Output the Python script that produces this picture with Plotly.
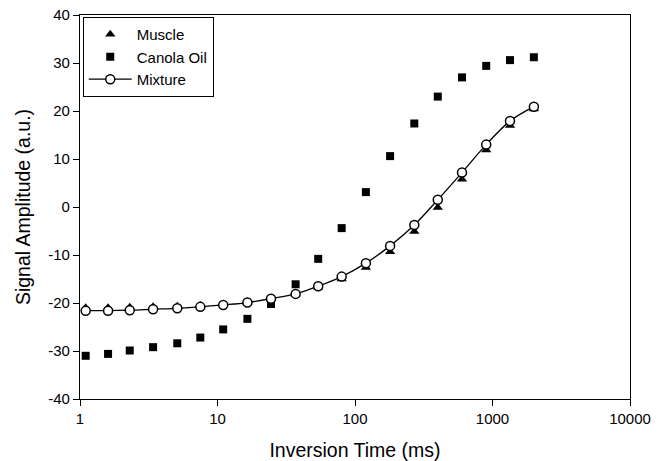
import plotly.graph_objects as go

inversion_time = [1.1, 1.6, 2.3, 3.4, 5.1, 7.5, 11, 16.5, 24.5, 37, 54, 80,
                  120, 180, 270, 400, 600, 900, 1340, 2000]
muscle = [-21.0, -21.0, -20.9, -20.8, -20.7, -20.5, -20.2, -19.8, -19.1, -18.2,
          -16.7, -15.0, -12.6, -9.3, -5.1, -0.1, 5.8, 11.9, 17.0, 20.4]
canola_oil = [-31.0, -30.6, -29.9, -29.2, -28.4, -27.2, -25.5, -23.3, -20.2, -16.1,
              -10.8, -4.4, 3.1, 10.6, 17.4, 23.0, 27.0, 29.4, 30.6, 31.2]
mixture = [-21.6, -21.6, -21.5, -21.3, -21.1, -20.8, -20.4, -19.9, -19.1, -18.1,
           -16.5, -14.5, -11.7, -8.1, -3.75, 1.5, 7.2, 13.0, 17.9, 20.9]

x_ticks = [1, 10, 100, 1000, 10000]
x_tick_labels = ["1", "10", "100", "1000", "10000"]
y_ticks = [-40, -30, -20, -10, 0, 10, 20, 30, 40]
y_tick_labels = ["-40", "-30", "-20", "-10", "0", "10", "20", "30", "40"]

font_family = "Liberation Sans, Arial, sans-serif"

fig = go.Figure()
fig.add_trace(go.Scatter(
    x=inversion_time, y=muscle, mode="markers", name="Muscle",
    marker=dict(symbol="triangle-up", size=9, color="black"),
))
fig.add_trace(go.Scatter(
    x=inversion_time, y=canola_oil, mode="markers", name="Canola Oil",
    marker=dict(symbol="square", size=8, color="black"),
))
fig.add_trace(go.Scatter(
    x=inversion_time, y=mixture, mode="lines+markers", name="Mixture",
    line=dict(color="black", width=1.3, shape="spline"),
    marker=dict(symbol="circle", size=9, color="white",
                line=dict(color="black", width=1.5)),
))

fig.update_layout(
    width=664, height=461,
    margin=dict(l=80, r=34, t=15, b=62),
    paper_bgcolor="white", plot_bgcolor="white",
    font=dict(family=font_family, size=15, color="black"),
    showlegend=True,
    legend=dict(
        x=0.005, y=0.995, xanchor="left", yanchor="top",
        bordercolor="black", borderwidth=1, bgcolor="white",
        font=dict(size=15), itemwidth=43,
        tracegroupgap=0,
    ),
    xaxis=dict(
        type="log", range=[0, 4], automargin=False,
        tickvals=x_ticks, ticktext=x_tick_labels,
        ticks="outside", ticklen=6, tickwidth=1, tickcolor="black",
        showline=True, linecolor="black", linewidth=1.3, mirror=True,
        showgrid=False, zeroline=False,
        title=dict(text="Inversion Time (ms)", font=dict(size=19.5), standoff=18),
    ),
    yaxis=dict(
        range=[-40, 40], automargin=False,
        tickvals=y_ticks, ticktext=y_tick_labels,
        ticks="outside", ticklen=6, tickwidth=1, tickcolor="black",
        showline=True, linecolor="black", linewidth=1.3, mirror=True,
        showgrid=False, zeroline=False,
        title=dict(text="Signal Amplitude (a.u.)", font=dict(size=19.5), standoff=12),
    ),
)

fig.write_html("out.html")
